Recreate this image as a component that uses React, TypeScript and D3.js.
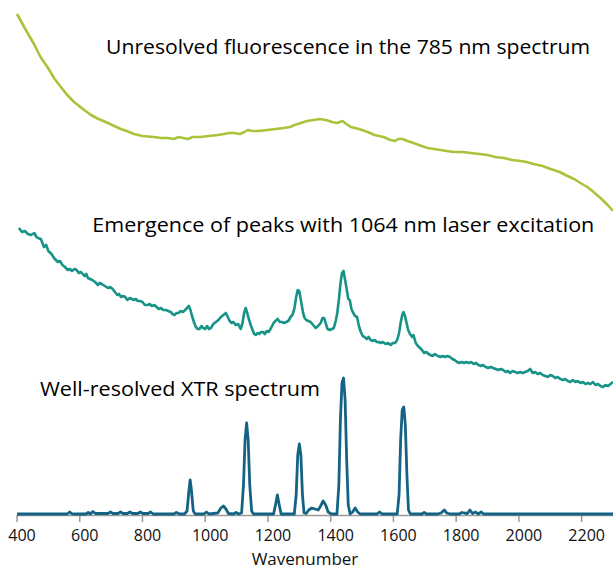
import React, { useMemo } from "react";
import * as d3 from "d3";

// wavenumber (cm-1), offset intensity (a.u.)
const fluor785: [number, number][] = [
  [400, 1002], [430, 968], [454, 942], [475, 916], [499, 894], [520, 872], [540, 856], [560, 840],
  [582, 826], [610, 812], [636, 800], [660, 792], [690, 784], [710, 778], [731, 772], [750, 768],
  [773, 762], [800, 758], [836, 756], [860, 754], [881, 754], [900, 752], [915, 756], [930, 754],
  [945, 752], [960, 756], [986, 756], [1010, 758], [1040, 760], [1060, 762], [1075, 764], [1091, 764],
  [1110, 762], [1125, 766], [1136, 770], [1150, 768], [1170, 768], [1199, 770], [1225, 772],
  [1250, 774], [1270, 776], [1285, 780], [1305, 784], [1325, 788], [1346, 790], [1365, 792],
  [1385, 790], [1405, 786], [1420, 784], [1438, 788], [1450, 782], [1464, 776], [1490, 772],
  [1518, 766], [1540, 760], [1569, 756], [1590, 750], [1605, 748], [1615, 752], [1629, 752],
  [1645, 748], [1664, 744], [1690, 738], [1709, 734], [1730, 732], [1750, 730], [1770, 728],
  [1792, 726], [1820, 726], [1846, 724], [1875, 722], [1900, 720], [1925, 716], [1951, 714],
  [1980, 710], [2005, 708], [2025, 706], [2047, 702], [2075, 698], [2101, 692], [2130, 686],
  [2155, 678], [2176, 672], [2196, 664], [2218, 656], [2238, 646], [2260, 634], [2280, 622],
  [2300, 608],
];

const laser1064: [number, number][] = [
  [406, 574], [416, 566], [425, 568], [435, 562], [445, 560], [455, 564], [462, 556], [467, 554],
  [476, 552], [486, 536], [493, 540], [500, 528], [510, 522], [518, 514], [530, 506], [537, 508],
  [545, 500], [553, 496], [562, 490], [569, 492], [575, 488], [583, 492], [590, 490], [597, 484],
  [604, 486], [615, 478], [621, 482], [626, 474], [633, 472], [640, 470], [649, 466], [658, 460],
  [664, 464], [670, 462], [680, 458], [690, 454], [697, 456], [705, 452], [712, 446], [720, 440],
  [726, 442], [731, 436], [738, 438], [745, 436], [752, 430], [760, 434], [766, 432], [773, 430],
  [779, 432], [785, 428], [792, 428], [800, 426], [808, 420], [817, 420], [823, 422], [830, 418],
  [838, 420], [845, 416], [852, 412], [859, 414], [866, 410], [875, 410], [882, 408], [890, 406],
  [896, 402], [902, 400], [909, 404], [915, 404], [922, 408], [929, 406], [936, 410], [942, 414],
  [948, 418], [953, 410], [958, 398], [964, 386], [970, 376], [976, 372], [982, 372], [988, 378],
  [994, 374], [1000, 372], [1006, 378], [1012, 372], [1018, 374], [1026, 382], [1034, 386],
  [1042, 390], [1050, 396], [1058, 400], [1066, 404], [1072, 396], [1078, 388], [1084, 384],
  [1090, 386], [1097, 380], [1105, 382], [1113, 372], [1119, 384], [1124, 404], [1129, 414],
  [1134, 404], [1139, 392], [1145, 380], [1151, 370], [1156, 362], [1161, 360], [1167, 364],
  [1172, 362], [1178, 366], [1184, 366], [1190, 362], [1196, 368], [1202, 366], [1210, 374],
  [1218, 384], [1224, 388], [1231, 392], [1238, 386], [1245, 386], [1252, 384], [1258, 386],
  [1265, 388], [1272, 396], [1278, 400], [1284, 412], [1290, 436], [1295, 450], [1300, 448],
  [1306, 426], [1312, 404], [1317, 394], [1322, 390], [1329, 388], [1336, 386], [1344, 380],
  [1352, 374], [1360, 378], [1368, 384], [1374, 394], [1379, 394], [1384, 384], [1390, 372],
  [1397, 370], [1404, 372], [1410, 374], [1416, 388], [1421, 404], [1426, 430], [1431, 462],
  [1436, 484], [1441, 488], [1446, 470], [1451, 452], [1456, 432], [1461, 430], [1466, 412],
  [1472, 404], [1478, 398], [1484, 396], [1490, 378], [1496, 366], [1502, 358], [1508, 356],
  [1515, 352], [1521, 356], [1527, 350], [1534, 348], [1540, 350], [1547, 346], [1553, 346],
  [1559, 344], [1566, 346], [1575, 342], [1583, 344], [1591, 340], [1598, 344], [1605, 344],
  [1612, 350], [1618, 364], [1623, 384], [1628, 400], [1632, 406], [1637, 398], [1642, 384],
  [1647, 370], [1653, 362], [1660, 356], [1664, 360], [1671, 344], [1678, 338], [1685, 334],
  [1691, 330], [1698, 324], [1705, 326], [1712, 322], [1718, 320], [1725, 318], [1732, 322],
  [1741, 318], [1750, 316], [1757, 318], [1764, 316], [1772, 318], [1780, 316], [1788, 312],
  [1795, 310], [1803, 306], [1810, 304], [1818, 306], [1825, 304], [1832, 306], [1840, 304],
  [1848, 306], [1856, 302], [1864, 304], [1871, 300], [1879, 298], [1886, 300], [1894, 296],
  [1902, 294], [1910, 296], [1918, 294], [1926, 292], [1934, 290], [1942, 292], [1950, 290],
  [1958, 286], [1965, 288], [1972, 284], [1980, 288], [1988, 286], [1996, 284], [2004, 286],
  [2012, 284], [2020, 286], [2028, 288], [2036, 292], [2044, 284], [2052, 286], [2060, 282],
  [2068, 284], [2076, 280], [2084, 278], [2092, 276], [2100, 280], [2108, 278], [2116, 274],
  [2124, 276], [2132, 272], [2140, 270], [2148, 272], [2156, 268], [2164, 266], [2172, 270],
  [2180, 266], [2188, 268], [2196, 264], [2204, 266], [2212, 262], [2220, 264], [2228, 262],
  [2236, 266], [2244, 260], [2252, 262], [2260, 258], [2268, 256], [2276, 260], [2284, 258],
  [2292, 262], [2300, 266],
];

const xtr: [number, number][] = [
  [400, 2], [560, 2], [568, 6], [576, 2], [620, 2], [627, 5], [634, 2], [642, 7], [650, 3],
  [690, 3], [698, 6], [706, 3], [722, 3], [730, 6], [738, 3], [752, 3], [760, 6], [768, 3],
  [785, 3], [793, 6], [801, 3], [818, 3], [826, 6], [834, 2], [900, 2], [908, 5], [918, 2],
  [934, 2], [942, 8], [948, 48], [952, 70], [956, 50], [962, 8], [968, 2], [996, 2], [1004, 6],
  [1012, 2], [1040, 4], [1050, 14], [1058, 18], [1066, 12], [1074, 3], [1090, 2], [1098, 5],
  [1106, 2], [1116, 4], [1122, 60], [1127, 150], [1132, 184], [1137, 150], [1142, 60], [1148, 8],
  [1154, 2], [1218, 2], [1224, 20], [1230, 40], [1236, 20], [1242, 2], [1284, 2], [1290, 40],
  [1295, 120], [1300, 142], [1305, 120], [1310, 40], [1315, 4], [1322, 3], [1330, 10], [1340, 14],
  [1350, 12], [1360, 10], [1368, 18], [1376, 28], [1384, 20], [1392, 6], [1402, 2], [1420, 2],
  [1426, 60], [1431, 190], [1436, 264], [1441, 274], [1446, 230], [1451, 110], [1456, 20],
  [1462, 2], [1470, 6], [1478, 14], [1486, 6], [1494, 2], [1548, 2], [1556, 6], [1564, 2],
  [1612, 2], [1618, 40], [1623, 150], [1628, 210], [1633, 216], [1638, 180], [1643, 80],
  [1648, 10], [1654, 2], [1690, 2], [1698, 5], [1706, 2], [1740, 2], [1752, 4], [1762, 10],
  [1770, 4], [1780, 2], [1810, 2], [1818, 5], [1826, 4], [1836, 3], [1844, 10], [1852, 3],
  [1862, 6], [1870, 2], [1880, 6], [1888, 2], [2300, 2],
];

const xTicks = [400, 600, 800, 1000, 1200, 1400, 1600, 1800, 2000, 2200];

const labels = [
  { text: "Unresolved fluorescence in the 785 nm spectrum", wn: 684, val: 922, len: 484 },
  { text: "Emergence of peaks with 1064 nm laser excitation", wn: 640, val: 566, len: 502 },
  { text: "Well-resolved XTR spectrum", wn: 473, val: 238, len: 280 },
];

const COLORS = { fluor: "#a7c43a", laser: "#179388", xtr: "#156383" };

export default function App() {
  const width = 613;
  const height = 571;
  const MARGIN = { top: 15, right: 0, bottom: 56, left: 17 };
  const boundsBottom = height - MARGIN.bottom;

  const xScale = useMemo(
    () => d3.scaleLinear().domain([400, 2300]).range([MARGIN.left, width - MARGIN.right]),
    []
  );
  const yScale = useMemo(
    () => d3.scaleLinear().domain([0, 1000]).range([boundsBottom, MARGIN.top]),
    []
  );

  const line = d3
    .line<[number, number]>()
    .x((d) => xScale(d[0]))
    .y((d) => yScale(d[1]))
    .curve(d3.curveLinear);

  const font = "'Open Sans', 'DejaVu Sans', sans-serif";

  return (
    <svg
      width={width}
      height={height}
      style={{ position: "absolute", left: 0, top: 0, background: "#fff" }}
    >
      {/* axis */}
      <line
        x1={xScale(400)}
        x2={xScale(2300)}
        y1={boundsBottom + 0.5}
        y2={boundsBottom + 0.5}
        stroke="#9a9a9a"
        strokeWidth={1.5}
      />
      {xTicks.map((t) => (
        <g key={t} transform={`translate(${xScale(t)},${boundsBottom})`}>
          <line y1={0} y2={7} stroke="#9a9a9a" strokeWidth={1.5} />
          <text
            x={5}
            y={26}
            textAnchor="middle"
            fontSize={16}
            fontFamily={font}
            fill="#111"
          >
            {t}
          </text>
        </g>
      ))}
      <text
        x={305}
        y={565}
        textAnchor="middle"
        fontSize={17}
        fontFamily={font}
        fill="#111"
      >
        Wavenumber
      </text>

      <path d={line(fluor785) ?? ""} fill="none" stroke={COLORS.fluor} strokeWidth={2.6} strokeLinejoin="round" />
      <path d={line(laser1064) ?? ""} fill="none" stroke={COLORS.laser} strokeWidth={2.6} strokeLinejoin="round" />
      <path d={line(xtr) ?? ""} fill="none" stroke={COLORS.xtr} strokeWidth={2.8} strokeLinejoin="round" />

      {labels.map((l) => (
        <text
          key={l.text}
          x={xScale(l.wn)}
          y={yScale(l.val)}
          fontSize={20}
          fontFamily={font}
          fill="#000"
          textLength={l.len}
          lengthAdjust="spacingAndGlyphs"
        >
          {l.text}
        </text>
      ))}
    </svg>
  );
}
